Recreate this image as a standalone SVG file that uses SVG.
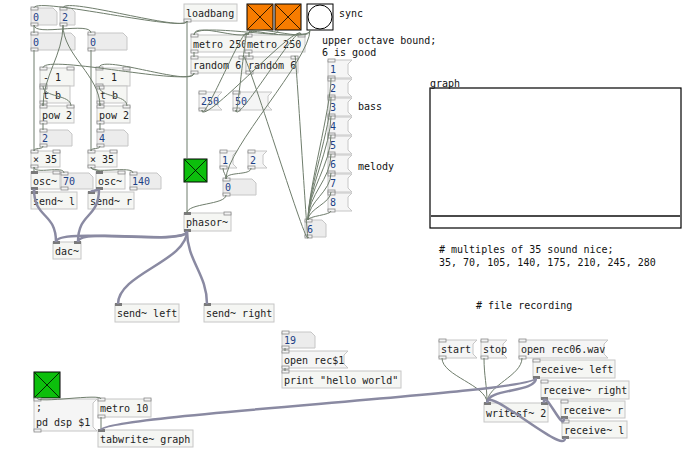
<svg xmlns="http://www.w3.org/2000/svg" width="694" height="464" viewBox="0 0 694 464">
<style>
.o{fill:#f5f6f3;stroke:#c6c6c6;stroke-width:1}
.n{fill:#ececec;stroke:#c6c6c6;stroke-width:1}
.m{fill:#f5f5f5;stroke:#c6c6c6;stroke-width:1}
text{font-family:"DejaVu Sans Mono","Liberation Mono",monospace;font-size:10px;fill:#222}
.nt{fill:#1c3f86}
.cm{fill:#111}
.io{fill:#f2f2f2;stroke:#8a8a8a;stroke-width:0.8}
.sio{fill:#7a7a7a}
.w{fill:none;stroke:#6f7d6c;stroke-width:1}
.sw{fill:none;stroke:#8a8aa2;stroke-width:2.5}
.tg{stroke:#000;stroke-width:1}
.x{stroke:#000;stroke-width:0.8}
</style>
<rect width="694" height="464" fill="#fff"/>
<g id="nodes">
<g id="num0a"><path class="n" d="M31 8H53L57 12V25H31Z"/><text class="nt" x="33" y="20.5">0</text><rect class="io" x="31" y="7" width="7" height="3"/><rect class="io" x="31" y="23" width="7" height="3"/></g>
<g id="num2a"><path class="n" d="M60 8H71L75 12V25H60Z"/><text class="nt" x="62" y="20.5">2</text><rect class="io" x="60" y="7" width="7" height="3"/><rect class="io" x="60" y="23" width="7" height="3"/></g>
<g id="num0b"><path class="n" d="M31 33H71L75 37V50H31Z"/><text class="nt" x="33" y="45.5">0</text><rect class="io" x="31" y="32" width="7" height="3"/><rect class="io" x="31" y="48" width="7" height="3"/></g>
<g id="num0c"><path class="n" d="M88 33H123L127 37V50H88Z"/><text class="nt" x="90" y="45.5">0</text><rect class="io" x="88" y="32" width="7" height="3"/><rect class="io" x="88" y="48" width="7" height="3"/></g>
<g id="sub1a"><rect class="o" x="40" y="68" width="34" height="18"/><text x="43" y="81">- 1</text><rect class="io" x="40" y="67" width="7" height="3"/><rect class="io" x="67" y="67" width="7" height="3"/><rect class="io" x="40" y="84" width="7" height="3"/></g>
<g id="tba"><rect class="o" x="40" y="86" width="30" height="17"/><text x="43" y="98.5">t b</text><rect class="io" x="40" y="86" width="7" height="3"/><rect class="io" x="40" y="101" width="7" height="3"/></g>
<g id="powa"><rect class="o" x="40" y="106" width="34" height="17"/><text x="42" y="118.5">pow 2</text><rect class="io" x="40" y="105" width="7" height="3"/><rect class="io" x="67" y="105" width="7" height="3"/><rect class="io" x="40" y="121" width="7" height="3"/></g>
<g id="sub1b"><rect class="o" x="96" y="68" width="34" height="18"/><text x="99" y="81">- 1</text><rect class="io" x="96" y="67" width="7" height="3"/><rect class="io" x="123" y="67" width="7" height="3"/><rect class="io" x="96" y="84" width="7" height="3"/></g>
<g id="tbb"><rect class="o" x="97" y="86" width="30" height="17"/><text x="100" y="98.5">t b</text><rect class="io" x="97" y="86" width="7" height="3"/><rect class="io" x="97" y="101" width="7" height="3"/></g>
<g id="powb"><rect class="o" x="97" y="106" width="33" height="17"/><text x="99" y="118.5">pow 2</text><rect class="io" x="97" y="105" width="7" height="3"/><rect class="io" x="123" y="105" width="7" height="3"/><rect class="io" x="97" y="121" width="7" height="3"/></g>
<g id="num2b"><path class="n" d="M40 130H68L72 134V146H40Z"/><text class="nt" x="42" y="142">2</text><rect class="io" x="40" y="129" width="7" height="3"/><rect class="io" x="40" y="144" width="7" height="3"/></g>
<g id="num4"><path class="n" d="M97 130H124L128 134V146H97Z"/><text class="nt" x="99" y="142">4</text><rect class="io" x="97" y="129" width="7" height="3"/><rect class="io" x="97" y="144" width="7" height="3"/></g>
<g id="mul35a"><rect class="o" x="31" y="151" width="29" height="16"/><text x="33" y="163">× 35</text><rect class="io" x="31" y="150" width="7" height="3"/><rect class="io" x="53" y="150" width="7" height="3"/><rect class="io" x="31" y="165" width="7" height="3"/></g>
<g id="mul35b"><rect class="o" x="88" y="151" width="29" height="16"/><text x="90" y="163">× 35</text><rect class="io" x="88" y="150" width="7" height="3"/><rect class="io" x="110" y="150" width="7" height="3"/><rect class="io" x="88" y="165" width="7" height="3"/></g>
<g id="osca"><rect class="o" x="31" y="172" width="29" height="17"/><text x="33" y="184.5">osc~</text><rect class="sio" x="31" y="171" width="7" height="3"/><rect class="io" x="53" y="171" width="7" height="3"/><rect class="sio" x="31" y="187" width="7" height="3"/></g>
<g id="num70"><path class="n" d="M61 173H89L93 177V189H61Z"/><text class="nt" x="63" y="185">70</text><rect class="io" x="61" y="172" width="7" height="3"/><rect class="io" x="61" y="187" width="7" height="3"/></g>
<g id="oscb"><rect class="o" x="96" y="172" width="29" height="17"/><text x="98" y="184.5">osc~</text><rect class="sio" x="96" y="171" width="7" height="3"/><rect class="io" x="118" y="171" width="7" height="3"/><rect class="sio" x="96" y="187" width="7" height="3"/></g>
<g id="num140"><path class="n" d="M130 173H157L161 177V189H130Z"/><text class="nt" x="132" y="185">140</text><rect class="io" x="130" y="172" width="7" height="3"/><rect class="io" x="130" y="187" width="7" height="3"/></g>
<g id="sendl"><rect class="o" x="31" y="192" width="46" height="17"/><text x="33" y="204.5">send~ l</text><rect class="sio" x="31" y="191" width="7" height="3"/></g>
<g id="sendr"><rect class="o" x="88" y="192" width="46" height="17"/><text x="90" y="204.5">send~ r</text><rect class="sio" x="88" y="191" width="7" height="3"/></g>
<g id="dac"><rect class="o" x="53" y="242" width="28" height="17"/><text x="55" y="254.5">dac~</text><rect class="sio" x="53" y="241" width="7" height="3"/><rect class="sio" x="74" y="241" width="7" height="3"/></g>
<g id="loadbang"><rect class="o" x="184" y="4" width="53" height="17"/><text x="186" y="16.5">loadbang</text><rect class="io" x="184" y="19" width="7" height="3"/></g>
<g id="tgl1"><rect class="tg" x="247" y="4" width="26" height="26" fill="#f77c00"/><path class="x" d="M248 5L272 29M272 5L248 29"/></g>
<g id="tgl2"><rect class="tg" x="275" y="4" width="26" height="26" fill="#f77c00"/><path class="x" d="M276 5L300 29M300 5L276 29"/></g>
<g id="bng"><rect class="tg" x="307" y="4" width="26" height="26" fill="#fff"/><circle cx="320" cy="17" r="12" fill="#fff" stroke="#000" stroke-width="1"/></g>
<g id="metro1"><rect class="o" x="191" y="35" width="60" height="17"/><text x="193" y="47.5">metro 250</text><rect class="io" x="191" y="34" width="7" height="3"/><rect class="io" x="191" y="50" width="7" height="3"/></g>
<g id="metro2"><rect class="o" x="245" y="35" width="60" height="17"/><text x="247" y="47.5">metro 250</text><rect class="io" x="245" y="34" width="7" height="3"/><rect class="io" x="298" y="34" width="7" height="3"/><rect class="io" x="245" y="50" width="7" height="3"/></g>
<g id="random1"><rect class="o" x="191" y="57" width="55" height="16"/><text x="193" y="69">random 6</text><rect class="io" x="191" y="56" width="7" height="3"/><rect class="io" x="239" y="56" width="7" height="3"/><rect class="io" x="191" y="71" width="7" height="3"/></g>
<g id="random2"><rect class="o" x="246" y="57" width="52" height="16"/><text x="248" y="69">random 6</text><rect class="io" x="246" y="56" width="7" height="3"/><rect class="io" x="291" y="56" width="7" height="3"/><rect class="io" x="246" y="71" width="7" height="3"/></g>
<g id="msg250"><path class="m" d="M199 92H222L218 96V106L222 110H199Z"/><text class="nt" x="201" y="105">250</text><rect class="io" x="199" y="91" width="7" height="3"/><rect class="io" x="199" y="108" width="7" height="3"/></g>
<g id="msg50"><path class="m" d="M233 92H272L268 96V106L272 110H233Z"/><text class="nt" x="235" y="105">50</text><rect class="io" x="233" y="91" width="7" height="3"/><rect class="io" x="233" y="108" width="7" height="3"/></g>
<g id="tgl3"><rect class="tg" x="184" y="159" width="23" height="23" fill="#0cbf0c"/><path class="x" d="M185 160L206 181M206 160L185 181"/></g>
<g id="msg1"><path class="m" d="M220 151H237L233 155V164L237 168H220Z"/><text class="nt" x="222" y="163.5">1</text><rect class="io" x="220" y="150" width="7" height="3"/><rect class="io" x="220" y="166" width="7" height="3"/></g>
<g id="msg2"><path class="m" d="M248 151H267L263 155V164L267 168H248Z"/><text class="nt" x="250" y="163.5">2</text><rect class="io" x="248" y="150" width="7" height="3"/><rect class="io" x="248" y="166" width="7" height="3"/></g>
<g id="num0d"><path class="n" d="M223 179H252L256 183V195H223Z"/><text class="nt" x="225" y="191">0</text><rect class="io" x="223" y="178" width="7" height="3"/><rect class="io" x="223" y="193" width="7" height="3"/></g>
<g id="phasor"><rect class="o" x="184" y="213" width="47" height="18"/><text x="186" y="226">phasor~</text><rect class="sio" x="184" y="212" width="7" height="3"/><rect class="io" x="224" y="212" width="7" height="3"/><rect class="sio" x="184" y="229" width="7" height="3"/></g>
<g id="oct1"><path class="m" d="M328 60H352L348 64V74L352 78H328Z"/><text class="nt" x="330" y="73">1</text><rect class="io" x="328" y="59" width="7" height="3"/><rect class="io" x="328" y="76" width="7" height="3"/></g>
<g id="oct2"><path class="m" d="M328 79H352L348 83V93L352 97H328Z"/><text class="nt" x="330" y="92">2</text><rect class="io" x="328" y="78" width="7" height="3"/><rect class="io" x="328" y="95" width="7" height="3"/></g>
<g id="oct3"><path class="m" d="M328 98H352L348 102V112L352 116H328Z"/><text class="nt" x="330" y="111">3</text><rect class="io" x="328" y="97" width="7" height="3"/><rect class="io" x="328" y="114" width="7" height="3"/></g>
<g id="oct4"><path class="m" d="M328 117H352L348 121V131L352 135H328Z"/><text class="nt" x="330" y="130">4</text><rect class="io" x="328" y="116" width="7" height="3"/><rect class="io" x="328" y="133" width="7" height="3"/></g>
<g id="oct5"><path class="m" d="M328 136H352L348 140V150L352 154H328Z"/><text class="nt" x="330" y="149">5</text><rect class="io" x="328" y="135" width="7" height="3"/><rect class="io" x="328" y="152" width="7" height="3"/></g>
<g id="oct6"><path class="m" d="M328 155H352L348 159V169L352 173H328Z"/><text class="nt" x="330" y="168">6</text><rect class="io" x="328" y="154" width="7" height="3"/><rect class="io" x="328" y="171" width="7" height="3"/></g>
<g id="oct7"><path class="m" d="M328 174H352L348 178V188L352 192H328Z"/><text class="nt" x="330" y="187">7</text><rect class="io" x="328" y="173" width="7" height="3"/><rect class="io" x="328" y="190" width="7" height="3"/></g>
<g id="oct8"><path class="m" d="M328 193H352L348 197V207L352 211H328Z"/><text class="nt" x="330" y="206">8</text><rect class="io" x="328" y="192" width="7" height="3"/><rect class="io" x="328" y="209" width="7" height="3"/></g>
<g id="num6"><path class="n" d="M305 220H322L326 224V237H305Z"/><text class="nt" x="307" y="232.5">6</text><rect class="io" x="305" y="219" width="7" height="3"/><rect class="io" x="305" y="235" width="7" height="3"/></g>
<g id="graph"><rect x="430" y="88" width="251" height="140" fill="#fff" stroke="#000" stroke-width="1.2"/><line x1="431" y1="216" x2="680" y2="216" stroke="#4a4a4a" stroke-width="2"/><text class="cm" x="430" y="87">graph</text></g>
<g id="sendleft"><rect class="o" x="115" y="304" width="64" height="18"/><text x="117" y="317">send~ left</text><rect class="sio" x="115" y="303" width="7" height="3"/></g>
<g id="sendright"><rect class="o" x="204" y="304" width="70" height="18"/><text x="206" y="317">send~ right</text><rect class="sio" x="204" y="303" width="7" height="3"/></g>
<g id="num19"><path class="n" d="M282 332H311L315 336V348H282Z"/><text class="nt" x="284" y="344">19</text><rect class="io" x="282" y="331" width="7" height="3"/><rect class="io" x="282" y="346" width="7" height="3"/></g>
<g id="msgopen"><path class="m" d="M282 351H348L344 355V364L348 368H282Z"/><text x="284" y="363.5">open rec$1</text><rect class="io" x="282" y="350" width="7" height="3"/><rect class="io" x="282" y="366" width="7" height="3"/></g>
<g id="print"><rect class="o" x="282" y="371" width="119" height="17"/><text x="284" y="383.5">print "hello world"</text><rect class="io" x="282" y="370" width="7" height="3"/></g>
<g id="tgl4"><rect class="tg" x="34" y="372" width="26" height="26" fill="#0cbf0c"/><path class="x" d="M35 373L59 397M59 373L35 397"/></g>
<g id="msgdsp"><path class="m" d="M34 399H97L93 403V427L97 431H34Z"/><text x="36" y="411">;</text><text x="36" y="426">pd dsp $1</text><rect class="io" x="34" y="398" width="7" height="3"/><rect class="io" x="34" y="429" width="7" height="3"/></g>
<g id="metro10"><rect class="o" x="98" y="399" width="53" height="18"/><text x="100" y="412">metro 10</text><rect class="io" x="98" y="398" width="7" height="3"/><rect class="io" x="144" y="398" width="7" height="3"/><rect class="io" x="98" y="415" width="7" height="3"/></g>
<g id="tabwrite"><rect class="o" x="98" y="430" width="95" height="17"/><text x="100" y="442.5">tabwrite~ graph</text><rect class="sio" x="98" y="429" width="7" height="3"/></g>
<g id="start"><path class="m" d="M439 340H477L473 344V354L477 358H439Z"/><text x="441" y="353">start</text><rect class="io" x="439" y="339" width="7" height="3"/><rect class="io" x="439" y="356" width="7" height="3"/></g>
<g id="stop"><path class="m" d="M481 340H507L503 344V354L507 358H481Z"/><text x="483" y="353">stop</text><rect class="io" x="481" y="339" width="7" height="3"/><rect class="io" x="481" y="356" width="7" height="3"/></g>
<g id="openwav"><path class="m" d="M519 340H608L604 344V354L608 358H519Z"/><text x="521" y="353">open rec06.wav</text><rect class="io" x="519" y="339" width="7" height="3"/><rect class="io" x="519" y="356" width="7" height="3"/></g>
<g id="recleft"><rect class="o" x="533" y="360" width="82" height="18"/><text x="535" y="373">receive~ left</text><rect class="io" x="533" y="359" width="7" height="3"/><rect class="sio" x="533" y="376" width="7" height="3"/></g>
<g id="recright"><rect class="o" x="541" y="381" width="88" height="18"/><text x="543" y="394">receive~ right</text><rect class="io" x="541" y="380" width="7" height="3"/><rect class="sio" x="541" y="397" width="7" height="3"/></g>
<g id="writesf"><rect class="o" x="484" y="403" width="64" height="19"/><text x="486" y="416.5">writesf~ 2</text><rect class="sio" x="484" y="402" width="7" height="3"/><rect class="sio" x="541" y="402" width="7" height="3"/></g>
<g id="recr"><rect class="o" x="561" y="401" width="64" height="17"/><text x="563" y="413.5">receive~ r</text><rect class="io" x="561" y="400" width="7" height="3"/><rect class="sio" x="561" y="416" width="7" height="3"/></g>
<g id="recl"><rect class="o" x="562" y="421" width="65" height="17"/><text x="564" y="433.5">receive~ l</text><rect class="io" x="562" y="420" width="7" height="3"/><rect class="sio" x="562" y="436" width="7" height="3"/></g>
</g>
<g id="comments">
<text class="cm" x="339" y="17">sync</text>
<text class="cm" x="322" y="44">upper octave bound;</text>
<text class="cm" x="322" y="56">6 is good</text>
<text class="cm" x="358" y="110">bass</text>
<text class="cm" x="358" y="170">melody</text>
<text class="cm" x="439" y="253"># multiples of 35 sound nice;</text>
<text class="cm" x="439" y="266">35, 70, 105, 140, 175, 210, 245, 280</text>
<text class="cm" x="476" y="309"># file recording</text>
</g>
<g id="connectors">
<path class="w" d="M187 21C187 33 34 -4 34 8"/>
<path class="w" d="M187 21C187 33 63 -4 63 8"/>
<path class="w" d="M34 25L34 33"/>
<path class="w" d="M34 25C34 37 91 21 91 33"/>
<path class="w" d="M63 25C63 55 43 76 43 106"/>
<path class="w" d="M63 25C63 55 100 76 100 106"/>
<path class="w" d="M194 73C194 88 43 53 43 68"/>
<path class="w" d="M194 73C194 88 99 53 99 68"/>
<path class="w" d="M43 86C43 98 71 94 71 106"/>
<path class="w" d="M43 103L43 106"/>
<path class="w" d="M99 86C99 98 127 94 127 106"/>
<path class="w" d="M100 103L100 106"/>
<path class="w" d="M43 123L43 130"/>
<path class="w" d="M100 123L100 130"/>
<path class="w" d="M43 146C43 150 34 147 34 151"/>
<path class="w" d="M100 146C100 150 91 147 91 151"/>
<path class="w" d="M34 50L34 151"/>
<path class="w" d="M91 50L91 151"/>
<path class="w" d="M34 167L34 172"/>
<path class="w" d="M34 167C34 175 64 165 64 173"/>
<path class="w" d="M91 167C91 170 99 169 99 172"/>
<path class="w" d="M91 167C91 175 133 165 133 173"/>
<path class="w" d="M250 30C250 45 194 20 194 35"/>
<path class="w" d="M278 30C278 40 248 25 248 35"/>
<path class="w" d="M310 30C310 45 194 20 194 35"/>
<path class="w" d="M310 30C310 45 248 20 248 35"/>
<path class="w" d="M194 52L194 57"/>
<path class="w" d="M249 52L249 57"/>
<path class="w" d="M202 110C202 128 247 17 247 35"/>
<path class="w" d="M202 110C202 128 301 17 301 35"/>
<path class="w" d="M236 110C236 128 247 17 247 35"/>
<path class="w" d="M236 110C236 128 301 17 301 35"/>
<path class="w" d="M310 30C310 60 226 149 226 179"/>
<path class="w" d="M223 168C223 173 226 174 226 179"/>
<path class="w" d="M251 168C251 176 226 171 226 179"/>
<path class="w" d="M226 195C226 205 187 203 187 213"/>
<path class="w" d="M187 21L187 159"/>
<path class="w" d="M187 182L187 213"/>
<path class="w" d="M331 78C331 108 308 190 308 220"/>
<path class="w" d="M331 97C331 127 308 190 308 220"/>
<path class="w" d="M331 116C331 146 308 190 308 220"/>
<path class="w" d="M331 135C331 165 308 190 308 220"/>
<path class="w" d="M331 154C331 180 308 194 308 220"/>
<path class="w" d="M331 173C331 192 308 201 308 220"/>
<path class="w" d="M331 192C331 203 308 209 308 220"/>
<path class="w" d="M331 211C331 215 308 216 308 220"/>
<path class="w" d="M308 237C308 255 243 39 243 57"/>
<path class="w" d="M308 237C308 255 295 39 295 57"/>
<path class="w" d="M37 398C37 404 101 393 101 399"/>
<path class="w" d="M101 417L101 430"/>
<path class="w" d="M442 358C442 376 487 385 487 403"/>
<path class="w" d="M484 358C484 376 487 385 487 403"/>
<path class="w" d="M522 358C522 376 487 385 487 403"/>
<path class="w" d="M285 348L285 351"/>
<path class="w" d="M285 368L285 371"/>
<path class="sw" d="M34 189L34 192"/>
<path class="sw" d="M34 189C34 219 56 212 56 242"/>
<path class="sw" d="M99 189C99 191 91 190 91 192"/>
<path class="sw" d="M99 189C99 219 78 212 78 242"/>
<path class="sw" d="M187 231C187 246 56 227 56 242"/>
<path class="sw" d="M187 231C187 246 78 227 78 242"/>
<path class="sw" d="M187 231C187 261 118 274 118 304"/>
<path class="sw" d="M187 231C187 261 207 274 207 304"/>
<path class="sw" d="M536 378C536 393 101 415 101 430"/>
<path class="sw" d="M536 378C536 393 487 388 487 403"/>
<path class="sw" d="M544 399L544 403"/>
<path class="sw" d="M564 418C564 434 544 387 544 403"/>
<path class="sw" d="M565 438C565 456 487 385 487 403"/>
</g>
</svg>
